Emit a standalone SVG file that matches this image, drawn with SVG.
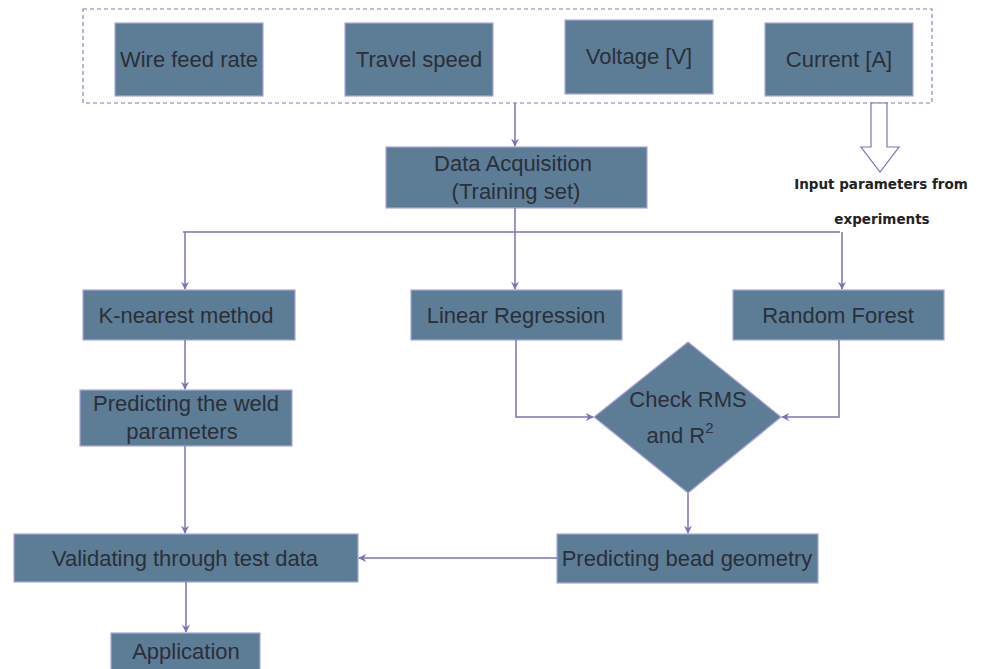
<svg xmlns="http://www.w3.org/2000/svg" width="987" height="669" viewBox="0 0 987 669">
<defs>
<style>
.n{fill:#5d7d97;stroke:#aaa6dc;stroke-width:1.2}
.t{font-family:"Liberation Sans",Arial,sans-serif;font-size:22px;fill:#2a2f38;text-anchor:middle}
.c{fill:none;stroke:#7d72b9;stroke-width:1.5}
.lbl{font-family:"DejaVu Sans",sans-serif;font-weight:bold;font-size:13.5px;fill:#222;text-anchor:middle}
</style>
<marker id="ah" viewBox="0 0 10 10" refX="9" refY="5" markerWidth="8" markerHeight="8" markerUnits="userSpaceOnUse" orient="auto">
<path d="M0,0 L10,5 L0,10 L3,5 Z" fill="#7d72b9"/>
</marker>
</defs>
<rect width="987" height="669" fill="#ffffff"/>
<g id="inputs-group">
<rect x="83" y="9" width="849" height="94" fill="none" stroke="#7e79b0" stroke-width="1.1" stroke-dasharray="4,3"/>
</g>
<g id="wire"><rect class="n" x="115" y="23" width="148" height="73"/><text class="t" x="189" y="67">Wire feed rate</text></g>
<g id="travel"><rect class="n" x="345" y="23" width="148" height="73"/><text class="t" x="419" y="67">Travel speed</text></g>
<g id="voltage"><rect class="n" x="565" y="20" width="148" height="74"/><text class="t" x="639" y="64">Voltage [V]</text></g>
<g id="current"><rect class="n" x="765" y="23" width="148" height="73"/><text class="t" x="839" y="67">Current [A]</text></g>
<g id="data"><rect class="n" x="386" y="147" width="261" height="61"/><text class="t" x="513" y="171">Data Acquisition</text><text class="t" x="516" y="199">(Training set)</text></g>
<g id="knn"><rect class="n" x="83" y="290" width="212" height="50"/><text class="t" x="186" y="323">K-nearest method</text></g>
<g id="lr"><rect class="n" x="411" y="290" width="211" height="50"/><text class="t" x="516" y="323">Linear Regression</text></g>
<g id="rf"><rect class="n" x="733" y="290" width="211" height="50"/><text class="t" x="838" y="323">Random Forest</text></g>
<g id="check"><polygon class="n" points="688,342 781,417 688,493 594,417"/><text class="t" x="688" y="407">Check RMS</text><text class="t" x="680" y="443">and R<tspan font-size="15" dy="-10">2</tspan></text></g>
<g id="weld"><rect class="n" x="80" y="390" width="212" height="56"/><text class="t" x="186" y="411">Predicting the weld</text><text class="t" x="182" y="439">parameters</text></g>
<g id="bead"><rect class="n" x="557" y="534" width="261" height="49"/><text class="t" x="687" y="566">Predicting bead geometry</text></g>
<g id="validate"><rect class="n" x="14" y="534" width="344" height="48"/><text class="t" x="185" y="566">Validating through test data</text></g>
<g id="app"><rect class="n" x="111" y="633" width="149" height="40"/><text class="t" x="186" y="659">Application</text></g>
<g id="input-note">
<path d="M871,103 L887,103 L887,147 L899,147 L880,172 L861,147 L871,147 Z" fill="#ffffff" stroke="#7d72b9" stroke-width="1.2"/>
<text class="lbl" x="881" y="189">Input parameters from</text>
<text class="lbl" x="882" y="224">experiments</text>
</g>
<g id="connectors">
<path class="c" d="M515,103 L515,146" marker-end="url(#ah)"/>
<path class="c" d="M515,208 L515,289" marker-end="url(#ah)"/>
<path class="c" d="M183,232 L840,232"/>
<path class="c" d="M185,232 L185,289" marker-end="url(#ah)"/>
<path class="c" d="M842,232 L842,289" marker-end="url(#ah)"/>
<path class="c" d="M516,340 L516,417 L593,417" marker-end="url(#ah)"/>
<path class="c" d="M839,340 L839,417 L782,417" marker-end="url(#ah)"/>
<path class="c" d="M688,493 L688,533" marker-end="url(#ah)"/>
<path class="c" d="M185,340 L185,389" marker-end="url(#ah)"/>
<path class="c" d="M185,446 L185,533" marker-end="url(#ah)"/>
<path class="c" d="M557,558 L359,558" marker-end="url(#ah)"/>
<path class="c" d="M186,582 L186,632" marker-end="url(#ah)"/>
</g>
</svg>
